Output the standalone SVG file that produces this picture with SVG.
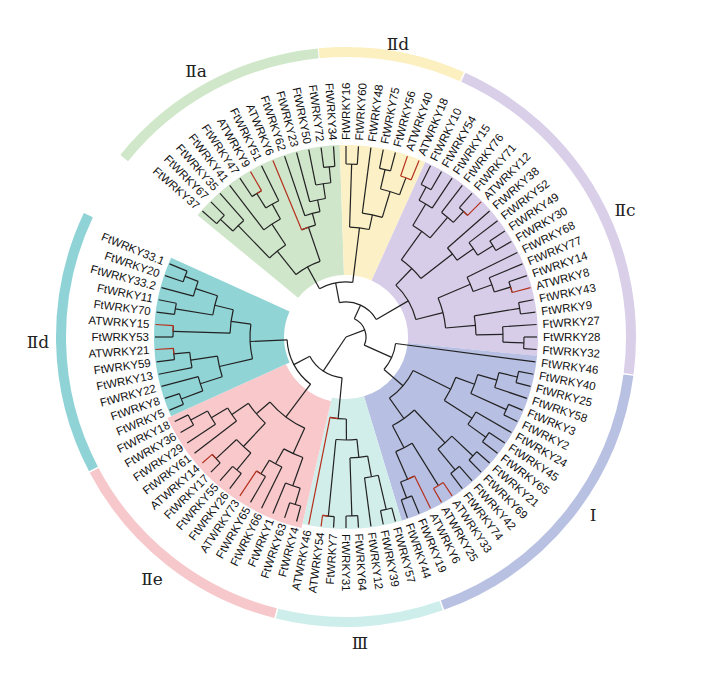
<svg xmlns="http://www.w3.org/2000/svg" width="710" height="683" viewBox="0 0 710 683">
<style>
.sec{fill:none;stroke-width:130}
.ring{fill:none;stroke-width:10}
#connectors{fill:none;stroke:#222;stroke-width:1.2}
#connectors .rd{stroke:#b5301c}
.lb text{font-family:"Liberation Sans",Arial,sans-serif;font-size:11.5px;fill:#111;dominant-baseline:central}
.L text{text-anchor:end}
.cl{font-family:"DejaVu Serif","Liberation Serif",serif;font-size:17px;fill:#222;text-anchor:middle;dominant-baseline:central}
</style>
<rect width="710" height="683" fill="#fff"/>
<g transform="translate(346,337)">
<g id="sectors">
<circle class="sec" r="127" pathLength="360" stroke="#cfe6ca" stroke-dasharray="48.75 999" transform="rotate(-140.625)"/>
<circle class="sec" r="127" pathLength="360" stroke="#fcf1c6" stroke-dasharray="26.25 999" transform="rotate(-91.875)"/>
<circle class="sec" r="127" pathLength="360" stroke="#d8cde8" stroke-dasharray="71.25 999" transform="rotate(-65.625)"/>
<circle class="sec" r="127" pathLength="360" stroke="#b7bfe2" stroke-dasharray="67.5 999" transform="rotate(5.625)"/>
<circle class="sec" r="127" pathLength="360" stroke="#d2eeeb" stroke-dasharray="30 999" transform="rotate(73.125)"/>
<circle class="sec" r="131" pathLength="360" stroke="#f8c8cb" stroke-width="122" stroke-dasharray="52.5 999" transform="rotate(103.125)"/>
<circle class="sec" r="127" pathLength="360" stroke="#91d4d6" stroke-dasharray="48.75 999" transform="rotate(155.625)"/>
</g>
<g id="rings">
<circle class="ring" r="285" pathLength="360" stroke="#d0e7ca" stroke-dasharray="45.5 999" transform="rotate(218.9)"/>
<circle class="ring" r="285" pathLength="360" stroke="#fcefc0" stroke-dasharray="29.4 999" transform="rotate(264.6)"/>
<circle class="ring" r="285" pathLength="360" stroke="#d9cfe8" stroke-dasharray="73.1 999" transform="rotate(294.3)"/>
<circle class="ring" r="285" pathLength="360" stroke="#b9c1e3" stroke-dasharray="62.5 999" transform="rotate(7.7)"/>
<circle class="ring" r="285" pathLength="360" stroke="#cdeeeb" stroke-dasharray="33.5 999" transform="rotate(70.5)"/>
<circle class="ring" r="285" pathLength="360" stroke="#f7c8cb" stroke-dasharray="47.8 999" transform="rotate(104.3)"/>
<circle class="ring" r="285" pathLength="360" stroke="#8fd3d6" stroke-dasharray="52.9 999" transform="rotate(152.4)"/>
</g>
<g id="connectors">
<!-- green IIa -->
<circle r="172" pathLength="360" stroke-dasharray="3.75 999" transform="rotate(-138.75)"/>
<line x1="172" x2="191" transform="rotate(-138.75)"/>
<line x1="172" x2="191" transform="rotate(-135)"/>
<circle r="155" pathLength="360" stroke-dasharray="5.625 999" transform="rotate(-136.875)"/>
<line x1="155" x2="172" transform="rotate(-136.875)"/>
<line x1="155" x2="191" transform="rotate(-131.25)"/>
<circle r="169" pathLength="360" stroke-dasharray="3.75 999" transform="rotate(-123.75)"/>
<line x1="169" x2="191" transform="rotate(-123.75)"/>
<circle r="152" pathLength="360" stroke-dasharray="5.625 999" transform="rotate(-121.875)"/>
<line x1="152" x2="169" transform="rotate(-121.875)"/>
<line x1="152" x2="191" transform="rotate(-116.25)"/>
<circle r="135" pathLength="360" stroke-dasharray="8.44 999" transform="rotate(-127.5)"/>
<line x1="135" x2="191" transform="rotate(-127.5)"/>
<line x1="135" x2="152" transform="rotate(-119.06)"/>
<circle r="110" pathLength="360" stroke-dasharray="10.78 999" transform="rotate(-134.06)"/>
<line x1="110" x2="155" transform="rotate(-134.06)"/>
<line x1="110" x2="135" transform="rotate(-123.28)"/>
<circle r="171" pathLength="360" stroke-dasharray="3.75 999" transform="rotate(-97.5)"/>
<line x1="171" x2="191" transform="rotate(-97.5)"/>
<line x1="171" x2="191" transform="rotate(-93.75)"/>
<circle r="155" pathLength="360" stroke-dasharray="5.625 999" transform="rotate(-101.25)"/>
<line x1="155" x2="191" transform="rotate(-101.25)"/>
<line x1="155" x2="171" transform="rotate(-95.625)"/>
<circle r="140" pathLength="360" stroke-dasharray="6.56 999" transform="rotate(-105)"/>
<line x1="140" x2="191" transform="rotate(-105)"/>
<line x1="140" x2="155" transform="rotate(-98.44)"/>
<circle r="128" pathLength="360" stroke-dasharray="7.03 999" transform="rotate(-108.75)"/>
<line x1="128" x2="191" transform="rotate(-108.75)"/>
<line x1="128" x2="140" transform="rotate(-101.72)"/>
<circle r="116" pathLength="360" stroke-dasharray="7.27 999" transform="rotate(-112.5)"/>
<line x1="116" x2="128" transform="rotate(-105.23)"/>
<circle r="80" pathLength="360" stroke-dasharray="19.8 999" transform="rotate(-128.67)"/>
<line x1="80" x2="110" transform="rotate(-128.67)"/>
<line x1="80" x2="116" transform="rotate(-108.87)"/>
<!-- yellow IId -->
<circle r="173" pathLength="360" stroke-dasharray="3.75 999" transform="rotate(-90)"/>
<line x1="173" x2="191" transform="rotate(-90)"/>
<line x1="173" x2="191" transform="rotate(-86.25)"/>
<circle r="172" pathLength="360" stroke-dasharray="3.75 999" transform="rotate(-78.75)"/>
<line x1="172" x2="191" transform="rotate(-78.75)"/>
<line x1="172" x2="191" transform="rotate(-75)"/>
<circle r="152" pathLength="360" stroke-dasharray="7.5 999" transform="rotate(-76.875)"/>
<line x1="152" x2="172" transform="rotate(-76.875)"/>
<line x1="152" x2="170" transform="rotate(-69.375)"/>
<circle r="125" pathLength="360" stroke-dasharray="9.375 999" transform="rotate(-82.5)"/>
<line x1="125" x2="191" transform="rotate(-82.5)"/>
<line x1="125" x2="152" transform="rotate(-73.125)"/>
<circle r="110" pathLength="360" stroke-dasharray="10.31 999" transform="rotate(-88.125)"/>
<line x1="110" x2="173" transform="rotate(-88.125)"/>
<line x1="110" x2="125" transform="rotate(-77.81)"/>
<circle r="55" pathLength="360" stroke-dasharray="35.8 999" transform="rotate(-118.77)"/>
<line x1="55" x2="80" transform="rotate(-118.77)"/>
<line x1="55" x2="110" transform="rotate(-82.97)"/>
<!-- purple IIc -->
<circle r="170" pathLength="360" stroke-dasharray="3.75 999" transform="rotate(-63.75)"/>
<line x1="170" x2="191" transform="rotate(-63.75)"/>
<line x1="170" x2="191" transform="rotate(-60)"/>
<circle r="155" pathLength="360" stroke-dasharray="5.625 999" transform="rotate(-61.875)"/>
<line x1="155" x2="170" transform="rotate(-61.875)"/>
<line x1="155" x2="191" transform="rotate(-56.25)"/>
<circle r="172" pathLength="360" stroke-dasharray="3.75 999" transform="rotate(-48.75)"/>
<line x1="172" x2="191" transform="rotate(-48.75)"/>
<circle r="157" pathLength="360" stroke-dasharray="5.625 999" transform="rotate(-52.5)"/>
<line x1="157" x2="191" transform="rotate(-52.5)"/>
<line x1="157" x2="172" transform="rotate(-46.875)"/>
<circle r="130" pathLength="360" stroke-dasharray="9.375 999" transform="rotate(-59.06)"/>
<line x1="130" x2="155" transform="rotate(-59.06)"/>
<line x1="130" x2="157" transform="rotate(-49.69)"/>
<circle r="173" pathLength="360" stroke-dasharray="3.75 999" transform="rotate(-33.75)"/>
<line x1="173" x2="191" transform="rotate(-33.75)"/>
<line x1="173" x2="191" transform="rotate(-30)"/>
<circle r="155" pathLength="360" stroke-dasharray="5.625 999" transform="rotate(-37.5)"/>
<line x1="155" x2="191" transform="rotate(-37.5)"/>
<line x1="155" x2="173" transform="rotate(-31.875)"/>
<circle r="135" pathLength="360" stroke-dasharray="6.56 999" transform="rotate(-41.25)"/>
<line x1="135" x2="191" transform="rotate(-41.25)"/>
<line x1="135" x2="155" transform="rotate(-34.69)"/>
<circle r="95" pathLength="360" stroke-dasharray="16.4 999" transform="rotate(-54.375)"/>
<line x1="95" x2="130" transform="rotate(-54.375)"/>
<line x1="95" x2="135" transform="rotate(-37.97)"/>
<circle r="172" pathLength="360" stroke-dasharray="3.75 999" transform="rotate(-18.75)"/>
<line x1="172" x2="191" transform="rotate(-18.75)"/>
<circle r="155" pathLength="360" stroke-dasharray="5.625 999" transform="rotate(-22.5)"/>
<line x1="155" x2="191" transform="rotate(-22.5)"/>
<line x1="155" x2="172" transform="rotate(-16.875)"/>
<circle r="135" pathLength="360" stroke-dasharray="6.56 999" transform="rotate(-26.25)"/>
<line x1="135" x2="191" transform="rotate(-26.25)"/>
<line x1="135" x2="155" transform="rotate(-19.69)"/>
<circle r="176" pathLength="360" stroke-dasharray="3.75 999" transform="rotate(-11.25)"/>
<line x1="176" x2="191" transform="rotate(-11.25)"/>
<line x1="176" x2="191" transform="rotate(-7.5)"/>
<circle r="178" pathLength="360" stroke-dasharray="3.75 999" transform="rotate(0)"/>
<line x1="178" x2="191" transform="rotate(0)"/>
<line x1="178" x2="191" transform="rotate(3.75)"/>
<circle r="157" pathLength="360" stroke-dasharray="5.625 999" transform="rotate(-3.75)"/>
<line x1="157" x2="191" transform="rotate(-3.75)"/>
<line x1="157" x2="178" transform="rotate(1.875)"/>
<circle r="130" pathLength="360" stroke-dasharray="8.44 999" transform="rotate(-9.375)"/>
<line x1="130" x2="176" transform="rotate(-9.375)"/>
<line x1="130" x2="157" transform="rotate(-0.9375)"/>
<circle r="100" pathLength="360" stroke-dasharray="17.81 999" transform="rotate(-22.97)"/>
<line x1="100" x2="135" transform="rotate(-22.97)"/>
<line x1="100" x2="130" transform="rotate(-5.156)"/>
<circle r="72" pathLength="360" stroke-dasharray="32.11 999" transform="rotate(-46.17)"/>
<line x1="72" x2="95" transform="rotate(-46.17)"/>
<line x1="72" x2="100" transform="rotate(-14.06)"/>
<circle r="35" pathLength="360" stroke-dasharray="70.75 999" transform="rotate(-100.87)"/>
<line x1="35" x2="55" transform="rotate(-100.87)"/>
<line x1="35" x2="72" transform="rotate(-30.12)"/>
<!-- blue I -->
<circle r="176" pathLength="360" stroke-dasharray="3.75 999" transform="rotate(11.25)"/>
<line x1="176" x2="191" transform="rotate(11.25)"/>
<line x1="176" x2="191" transform="rotate(15)"/>
<circle r="157" pathLength="360" stroke-dasharray="5.625 999" transform="rotate(13.125)"/>
<line x1="157" x2="176" transform="rotate(13.125)"/>
<line x1="157" x2="191" transform="rotate(18.75)"/>
<circle r="176" pathLength="360" stroke-dasharray="3.75 999" transform="rotate(22.5)"/>
<line x1="176" x2="191" transform="rotate(22.5)"/>
<line x1="176" x2="191" transform="rotate(26.25)"/>
<circle r="137" pathLength="360" stroke-dasharray="8.44 999" transform="rotate(15.94)"/>
<line x1="137" x2="157" transform="rotate(15.94)"/>
<line x1="137" x2="176" transform="rotate(24.375)"/>
<circle r="172" pathLength="360" stroke-dasharray="3.75 999" transform="rotate(33.75)"/>
<line x1="172" x2="191" transform="rotate(33.75)"/>
<line x1="172" x2="191" transform="rotate(37.5)"/>
<circle r="150" pathLength="360" stroke-dasharray="5.625 999" transform="rotate(30)"/>
<line x1="150" x2="191" transform="rotate(30)"/>
<line x1="150" x2="172" transform="rotate(35.625)"/>
<circle r="117" pathLength="360" stroke-dasharray="12.65 999" transform="rotate(20.16)"/>
<line x1="117" x2="137" transform="rotate(20.16)"/>
<line x1="117" x2="150" transform="rotate(32.81)"/>
<circle r="174" pathLength="360" stroke-dasharray="3.75 999" transform="rotate(41.25)"/>
<line x1="174" x2="191" transform="rotate(41.25)"/>
<line x1="174" x2="191" transform="rotate(45)"/>
<circle r="172" pathLength="360" stroke-dasharray="3.75 999" transform="rotate(48.75)"/>
<line x1="172" x2="191" transform="rotate(48.75)"/>
<line x1="172" x2="191" transform="rotate(52.5)"/>
<circle r="145" pathLength="360" stroke-dasharray="7.5 999" transform="rotate(43.125)"/>
<line x1="145" x2="174" transform="rotate(43.125)"/>
<line x1="145" x2="172" transform="rotate(50.625)"/>
<circle r="172" pathLength="360" stroke-dasharray="3.75 999" transform="rotate(67.5)"/>
<line x1="172" x2="191" transform="rotate(67.5)"/>
<line x1="172" x2="191" transform="rotate(71.25)"/>
<circle r="155" pathLength="360" stroke-dasharray="5.625 999" transform="rotate(63.75)"/>
<line x1="155" x2="172" transform="rotate(69.375)"/>
<circle r="125" pathLength="360" stroke-dasharray="8.44 999" transform="rotate(58.125)"/>
<line x1="125" x2="175" transform="rotate(58.125)"/>
<line x1="125" x2="155" transform="rotate(66.56)"/>
<circle r="100" pathLength="360" stroke-dasharray="15.47 999" transform="rotate(46.875)"/>
<line x1="100" x2="145" transform="rotate(46.875)"/>
<line x1="100" x2="125" transform="rotate(62.34)"/>
<circle r="75" pathLength="360" stroke-dasharray="28.13 999" transform="rotate(26.48)"/>
<line x1="75" x2="117" transform="rotate(26.48)"/>
<line x1="75" x2="100" transform="rotate(54.61)"/>
<circle r="50" pathLength="360" stroke-dasharray="33.05 999" transform="rotate(7.5)"/>
<line x1="50" x2="191" transform="rotate(7.5)"/>
<line x1="50" x2="75" transform="rotate(40.55)"/>
<circle r="20" pathLength="360" stroke-dasharray="89.52 999" transform="rotate(-65.5)"/>
<line x1="20" x2="35" transform="rotate(-65.5)"/>
<line x1="20" x2="50" transform="rotate(24.02)"/>
<!-- cyan III -->
<circle r="177" pathLength="360" stroke-dasharray="3.75 999" transform="rotate(75)"/>
<line x1="177" x2="191" transform="rotate(75)"/>
<line x1="177" x2="191" transform="rotate(78.75)"/>
<circle r="142" pathLength="360" stroke-dasharray="5.625 999" transform="rotate(76.875)"/>
<line x1="142" x2="177" transform="rotate(76.875)"/>
<line x1="142" x2="191" transform="rotate(82.5)"/>
<circle r="179" pathLength="360" stroke-dasharray="3.75 999" transform="rotate(86.25)"/>
<line x1="179" x2="191" transform="rotate(86.25)"/>
<line x1="179" x2="191" transform="rotate(90)"/>
<circle r="121" pathLength="360" stroke-dasharray="8.44 999" transform="rotate(79.69)"/>
<line x1="121" x2="142" transform="rotate(79.69)"/>
<line x1="121" x2="179" transform="rotate(88.125)"/>
<circle r="180" pathLength="360" stroke-dasharray="3.75 999" transform="rotate(93.75)"/>
<line x1="180" x2="191" transform="rotate(93.75)"/>
<circle r="103" pathLength="360" stroke-dasharray="11.72 999" transform="rotate(83.91)"/>
<line x1="103" x2="121" transform="rotate(83.91)"/>
<line x1="103" x2="180" transform="rotate(95.625)"/>
<circle r="82" pathLength="360" stroke-dasharray="11.48 999" transform="rotate(89.77)"/>
<line x1="82" x2="103" transform="rotate(89.77)"/>
<!-- pink IIe -->
<circle r="175" pathLength="360" stroke-dasharray="3.75 999" transform="rotate(105)"/>
<line x1="175" x2="191" transform="rotate(105)"/>
<line x1="175" x2="191" transform="rotate(108.75)"/>
<circle r="158" pathLength="360" stroke-dasharray="5.625 999" transform="rotate(106.875)"/>
<line x1="158" x2="175" transform="rotate(106.875)"/>
<line x1="158" x2="191" transform="rotate(112.5)"/>
<circle r="161" pathLength="360" stroke-dasharray="3.75 999" transform="rotate(120)"/>
<line x1="161" x2="191" transform="rotate(120)"/>
<circle r="145" pathLength="360" stroke-dasharray="5.625 999" transform="rotate(116.25)"/>
<line x1="145" x2="191" transform="rotate(116.25)"/>
<line x1="145" x2="161" transform="rotate(121.875)"/>
<circle r="128" pathLength="360" stroke-dasharray="9.375 999" transform="rotate(109.69)"/>
<line x1="128" x2="158" transform="rotate(109.69)"/>
<line x1="128" x2="145" transform="rotate(119.06)"/>
<circle r="172" pathLength="360" stroke-dasharray="3.75 999" transform="rotate(127.5)"/>
<line x1="172" x2="191" transform="rotate(127.5)"/>
<line x1="172" x2="191" transform="rotate(131.25)"/>
<circle r="178" pathLength="360" stroke-dasharray="3.75 999" transform="rotate(135)"/>
<line x1="178" x2="191" transform="rotate(135)"/>
<circle r="150" pathLength="360" stroke-dasharray="7.5 999" transform="rotate(129.375)"/>
<line x1="150" x2="172" transform="rotate(129.375)"/>
<line x1="150" x2="178" transform="rotate(136.875)"/>
<circle r="176" pathLength="360" stroke-dasharray="3.75 999" transform="rotate(150)"/>
<line x1="176" x2="191" transform="rotate(150)"/>
<line x1="176" x2="191" transform="rotate(153.75)"/>
<circle r="157" pathLength="360" stroke-dasharray="5.625 999" transform="rotate(146.25)"/>
<line x1="157" x2="191" transform="rotate(146.25)"/>
<line x1="157" x2="176" transform="rotate(151.875)"/>
<circle r="138" pathLength="360" stroke-dasharray="6.56 999" transform="rotate(142.5)"/>
<line x1="138" x2="191" transform="rotate(142.5)"/>
<line x1="138" x2="157" transform="rotate(149.06)"/>
<circle r="118" pathLength="360" stroke-dasharray="12.66 999" transform="rotate(133.125)"/>
<line x1="118" x2="150" transform="rotate(133.125)"/>
<line x1="118" x2="138" transform="rotate(145.78)"/>
<circle r="100" pathLength="360" stroke-dasharray="25.08 999" transform="rotate(114.375)"/>
<line x1="100" x2="128" transform="rotate(114.375)"/>
<line x1="100" x2="118" transform="rotate(139.45)"/>
<!-- teal IId -->
<circle r="176" pathLength="360" stroke-dasharray="3.75 999" transform="rotate(157.5)"/>
<line x1="176" x2="191" transform="rotate(157.5)"/>
<line x1="176" x2="191" transform="rotate(161.25)"/>
<circle r="153" pathLength="360" stroke-dasharray="5.625 999" transform="rotate(159.375)"/>
<line x1="153" x2="176" transform="rotate(159.375)"/>
<line x1="153" x2="191" transform="rotate(165)"/>
<circle r="173" pathLength="360" stroke-dasharray="3.75 999" transform="rotate(172.5)"/>
<line x1="173" x2="191" transform="rotate(172.5)"/>
<circle r="157" pathLength="360" stroke-dasharray="5.625 999" transform="rotate(168.75)"/>
<line x1="157" x2="191" transform="rotate(168.75)"/>
<line x1="157" x2="173" transform="rotate(174.375)"/>
<circle r="130" pathLength="360" stroke-dasharray="9.37 999" transform="rotate(162.19)"/>
<line x1="130" x2="153" transform="rotate(162.19)"/>
<line x1="130" x2="157" transform="rotate(171.56)"/>
<circle r="173" pathLength="360" stroke-dasharray="3.75 999" transform="rotate(180)"/>
<line x1="173" x2="191" transform="rotate(180)"/>
<circle r="173" pathLength="360" stroke-dasharray="3.75 999" transform="rotate(187.5)"/>
<line x1="173" x2="191" transform="rotate(187.5)"/>
<line x1="173" x2="191" transform="rotate(191.25)"/>
<circle r="172" pathLength="360" stroke-dasharray="3.75 999" transform="rotate(198.75)"/>
<line x1="172" x2="191" transform="rotate(198.75)"/>
<line x1="172" x2="191" transform="rotate(202.5)"/>
<circle r="158" pathLength="360" stroke-dasharray="5.625 999" transform="rotate(195)"/>
<line x1="158" x2="191" transform="rotate(195)"/>
<line x1="158" x2="172" transform="rotate(200.625)"/>
<circle r="135" pathLength="360" stroke-dasharray="8.44 999" transform="rotate(189.375)"/>
<line x1="135" x2="173" transform="rotate(189.375)"/>
<line x1="135" x2="158" transform="rotate(197.81)"/>
<circle r="116" pathLength="360" stroke-dasharray="11.72 999" transform="rotate(181.875)"/>
<line x1="116" x2="173" transform="rotate(181.875)"/>
<line x1="116" x2="135" transform="rotate(193.59)"/>
<circle r="96" pathLength="360" stroke-dasharray="20.86 999" transform="rotate(166.875)"/>
<line x1="96" x2="130" transform="rotate(166.875)"/>
<line x1="96" x2="116" transform="rotate(187.73)"/>
<circle r="59" pathLength="360" stroke-dasharray="50.39 999" transform="rotate(126.91)"/>
<line x1="59" x2="100" transform="rotate(126.91)"/>
<line x1="59" x2="96" transform="rotate(177.3)"/>
<circle r="41" pathLength="360" stroke-dasharray="56.59 999" transform="rotate(95.51)"/>
<line x1="41" x2="82" transform="rotate(95.51)"/>
<line x1="41" x2="59" transform="rotate(152.1)"/>
<line x1="0" x2="41" transform="rotate(123.8)"/>
<line x1="0" x2="20" transform="rotate(-20.74)"/>
<!-- red AT branches -->
<circle class="rd" r="169" pathLength="360" stroke-dasharray="1.875 999" transform="rotate(-121.875)"/>
<line class="rd" x1="169" x2="191" transform="rotate(-120)"/>
<circle class="rd" r="116" pathLength="360" stroke-dasharray="3.63 999" transform="rotate(-112.5)"/>
<line class="rd" x1="116" x2="191" transform="rotate(-112.5)"/>
<circle class="rd" r="170" pathLength="360" stroke-dasharray="3.75 999" transform="rotate(-71.25)"/>
<line class="rd" x1="170" x2="191" transform="rotate(-71.25)"/>
<line class="rd" x1="170" x2="191" transform="rotate(-67.5)"/>
<circle class="rd" r="172" pathLength="360" stroke-dasharray="1.875 999" transform="rotate(-46.875)"/>
<line class="rd" x1="172" x2="191" transform="rotate(-45)"/>
<circle class="rd" r="172" pathLength="360" stroke-dasharray="1.875 999" transform="rotate(-16.875)"/>
<line class="rd" x1="172" x2="191" transform="rotate(-15)"/>
<circle class="rd" r="175" pathLength="360" stroke-dasharray="3.75 999" transform="rotate(56.25)"/>
<line class="rd" x1="175" x2="191" transform="rotate(56.25)"/>
<line class="rd" x1="175" x2="191" transform="rotate(60)"/>
<circle class="rd" r="155" pathLength="360" stroke-dasharray="2.81 999" transform="rotate(63.75)"/>
<line class="rd" x1="155" x2="191" transform="rotate(63.75)"/>
<circle class="rd" r="180" pathLength="360" stroke-dasharray="1.875 999" transform="rotate(95.625)"/>
<line class="rd" x1="180" x2="191" transform="rotate(97.5)"/>
<circle class="rd" r="82" pathLength="360" stroke-dasharray="5.74 999" transform="rotate(95.51)"/>
<line class="rd" x1="82" x2="191" transform="rotate(101.25)"/>
<circle class="rd" r="161" pathLength="360" stroke-dasharray="1.875 999" transform="rotate(121.875)"/>
<line class="rd" x1="161" x2="191" transform="rotate(123.75)"/>
<circle class="rd" r="178" pathLength="360" stroke-dasharray="1.875 999" transform="rotate(136.875)"/>
<line class="rd" x1="178" x2="191" transform="rotate(138.75)"/>
<circle class="rd" r="173" pathLength="360" stroke-dasharray="1.875 999" transform="rotate(174.375)"/>
<line class="rd" x1="173" x2="191" transform="rotate(176.25)"/>
<circle class="rd" r="173" pathLength="360" stroke-dasharray="1.875 999" transform="rotate(181.875)"/>
<line class="rd" x1="173" x2="191" transform="rotate(183.75)"/>
</g>
<g class="lb L">
<g id="leaf-FtWRKY37"><text x="-197" transform="rotate(41.25)">FtWRKY37</text></g>
<g id="leaf-FtWRKY67"><text x="-197" transform="rotate(45)">FtWRKY67</text></g>
<g id="leaf-FtWRKY35"><text x="-197" transform="rotate(48.75)">FtWRKY35</text></g>
<g id="leaf-FtWRKY41"><text x="-197" transform="rotate(52.5)">FtWRKY41</text></g>
<g id="leaf-FtWRKY47"><text x="-197" transform="rotate(56.25)">FtWRKY47</text></g>
<g id="leaf-ATWRKY9"><text x="-197" transform="rotate(60)">ATWRKY9</text></g>
<g id="leaf-FtWRKY51"><text x="-197" transform="rotate(63.75)">FtWRKY51</text></g>
<g id="leaf-ATWRKY6-IIa"><text x="-197" transform="rotate(67.5)">ATWRKY6</text></g>
<g id="leaf-FtWRKY62"><text x="-197" transform="rotate(71.25)">FtWRKY62</text></g>
<g id="leaf-FtWRKY23"><text x="-197" transform="rotate(75)">FtWRKY23</text></g>
<g id="leaf-FtWRKY50"><text x="-197" transform="rotate(78.75)">FtWRKY50</text></g>
<g id="leaf-FtWRKY72"><text x="-197" transform="rotate(82.5)">FtWRKY72</text></g>
<g id="leaf-FtWRKY34"><text x="-197" transform="rotate(86.25)">FtWRKY34</text></g>
<g id="leaf-FtWRKY7"><text x="-197" transform="rotate(-86.25)">FtWRKY7</text></g>
<g id="leaf-ATWRKY54"><text x="-197" transform="rotate(-82.5)">ATWRKY54</text></g>
<g id="leaf-ATWRKY46"><text x="-197" transform="rotate(-78.75)">ATWRKY46</text></g>
<g id="leaf-FtWRKY4"><text x="-197" transform="rotate(-75)">FtWRKY4</text></g>
<g id="leaf-FtWRKY63"><text x="-197" transform="rotate(-71.25)">FtWRKY63</text></g>
<g id="leaf-FtWRKY1"><text x="-197" transform="rotate(-67.5)">FtWRKY1</text></g>
<g id="leaf-FtWRKY66"><text x="-197" transform="rotate(-63.75)">FtWRKY66</text></g>
<g id="leaf-FtWRKY65-IIe"><text x="-197" transform="rotate(-60)">FtWRKY65</text></g>
<g id="leaf-ATWRKY73"><text x="-197" transform="rotate(-56.25)">ATWRKY73</text></g>
<g id="leaf-FtWRKY26"><text x="-197" transform="rotate(-52.5)">FtWRKY26</text></g>
<g id="leaf-FtWRKY55"><text x="-197" transform="rotate(-48.75)">FtWRKY55</text></g>
<g id="leaf-FtWRKY17"><text x="-197" transform="rotate(-45)">FtWRKY17</text></g>
<g id="leaf-ATWRKY14"><text x="-197" transform="rotate(-41.25)">ATWRKY14</text></g>
<g id="leaf-FtWRKY61"><text x="-197" transform="rotate(-37.5)">FtWRKY61</text></g>
<g id="leaf-FtWRKY29"><text x="-197" transform="rotate(-33.75)">FtWRKY29</text></g>
<g id="leaf-FtWRKY36"><text x="-197" transform="rotate(-30)">FtWRKY36</text></g>
<g id="leaf-FtWRKY18"><text x="-197" transform="rotate(-26.25)">FtWRKY18</text></g>
<g id="leaf-FtWRKY5"><text x="-197" transform="rotate(-22.5)">FtWRKY5</text></g>
<g id="leaf-FtWRKY8"><text x="-197" transform="rotate(-18.75)">FtWRKY8</text></g>
<g id="leaf-FtWRKY22"><text x="-197" transform="rotate(-15)">FtWRKY22</text></g>
<g id="leaf-FtWRKY13"><text x="-197" transform="rotate(-11.25)">FtWRKY13</text></g>
<g id="leaf-FtWRKY59"><text x="-197" transform="rotate(-7.5)">FtWRKY59</text></g>
<g id="leaf-ATWRKY21"><text x="-197" transform="rotate(-3.75)">ATWRKY21</text></g>
<g id="leaf-FtWRKY53"><text x="-197" transform="rotate(0)">FtWRKY53</text></g>
<g id="leaf-ATWRKY15"><text x="-197" transform="rotate(3.75)">ATWRKY15</text></g>
<g id="leaf-FtWRKY70"><text x="-197" transform="rotate(7.5)">FtWRKY70</text></g>
<g id="leaf-FtWRKY11"><text x="-197" transform="rotate(11.25)">FtWRKY11</text></g>
<g id="leaf-FtWRKY33.2"><text x="-197" transform="rotate(15)">FtWRKY33.2</text></g>
<g id="leaf-FtWRKY20"><text x="-197" transform="rotate(18.75)">FtWRKY20</text></g>
<g id="leaf-FtWRKY33.1"><text x="-197" transform="rotate(22.5)">FtWRKY33.1</text></g>
</g>
<g class="lb R">
<g id="leaf-FtWRKY16"><text x="197" transform="rotate(-90)">FtWRKY16</text></g>
<g id="leaf-FtWRKY60"><text x="197" transform="rotate(-86.25)">FtWRKY60</text></g>
<g id="leaf-FtWRKY48"><text x="197" transform="rotate(-82.5)">FtWRKY48</text></g>
<g id="leaf-FtWRKY75"><text x="197" transform="rotate(-78.75)">FtWRKY75</text></g>
<g id="leaf-FtWRKY56"><text x="197" transform="rotate(-75)">FtWRKY56</text></g>
<g id="leaf-ATWRKY40"><text x="197" transform="rotate(-71.25)">ATWRKY40</text></g>
<g id="leaf-ATWRKY18"><text x="197" transform="rotate(-67.5)">ATWRKY18</text></g>
<g id="leaf-FtWRKY10"><text x="197" transform="rotate(-63.75)">FtWRKY10</text></g>
<g id="leaf-FtWRKY54"><text x="197" transform="rotate(-60)">FtWRKY54</text></g>
<g id="leaf-FtWRKY15"><text x="197" transform="rotate(-56.25)">FtWRKY15</text></g>
<g id="leaf-FtWRKY76"><text x="197" transform="rotate(-52.5)">FtWRKY76</text></g>
<g id="leaf-FtWRKY71"><text x="197" transform="rotate(-48.75)">FtWRKY71</text></g>
<g id="leaf-ATWRKY12"><text x="197" transform="rotate(-45)">ATWRKY12</text></g>
<g id="leaf-FtWRKY38"><text x="197" transform="rotate(-41.25)">FtWRKY38</text></g>
<g id="leaf-FtWRKY52"><text x="197" transform="rotate(-37.5)">FtWRKY52</text></g>
<g id="leaf-FtWRKY49"><text x="197" transform="rotate(-33.75)">FtWRKY49</text></g>
<g id="leaf-FtWRKY30"><text x="197" transform="rotate(-30)">FtWRKY30</text></g>
<g id="leaf-FtWRKY68"><text x="197" transform="rotate(-26.25)">FtWRKY68</text></g>
<g id="leaf-FtWRKY77"><text x="197" transform="rotate(-22.5)">FtWRKY77</text></g>
<g id="leaf-FtWRKY14"><text x="197" transform="rotate(-18.75)">FtWRKY14</text></g>
<g id="leaf-ATWRKY8"><text x="197" transform="rotate(-15)">ATWRKY8</text></g>
<g id="leaf-FtWRKY43"><text x="197" transform="rotate(-11.25)">FtWRKY43</text></g>
<g id="leaf-FtWRKY9"><text x="197" transform="rotate(-7.5)">FtWRKY9</text></g>
<g id="leaf-FtWRKY27"><text x="197" transform="rotate(-3.75)">FtWRKY27</text></g>
<g id="leaf-FtWRKY28"><text x="197" transform="rotate(0)">FtWRKY28</text></g>
<g id="leaf-FtWRKY32"><text x="197" transform="rotate(3.75)">FtWRKY32</text></g>
<g id="leaf-FtWRKY46"><text x="197" transform="rotate(7.5)">FtWRKY46</text></g>
<g id="leaf-FtWRKY40"><text x="197" transform="rotate(11.25)">FtWRKY40</text></g>
<g id="leaf-FtWRKY25"><text x="197" transform="rotate(15)">FtWRKY25</text></g>
<g id="leaf-FtWRKY58"><text x="197" transform="rotate(18.75)">FtWRKY58</text></g>
<g id="leaf-FtWRKY3"><text x="197" transform="rotate(22.5)">FtWRKY3</text></g>
<g id="leaf-FtWRKY2"><text x="197" transform="rotate(26.25)">FtWRKY2</text></g>
<g id="leaf-FtWRKY24"><text x="197" transform="rotate(30)">FtWRKY24</text></g>
<g id="leaf-FtWRKY45"><text x="197" transform="rotate(33.75)">FtWRKY45</text></g>
<g id="leaf-FtWRKY65-I"><text x="197" transform="rotate(37.5)">FtWRKY65</text></g>
<g id="leaf-FtWRKY21"><text x="197" transform="rotate(41.25)">FtWRKY21</text></g>
<g id="leaf-FtWRKY69"><text x="197" transform="rotate(45)">FtWRKY69</text></g>
<g id="leaf-FtWRKY42"><text x="197" transform="rotate(48.75)">FtWRKY42</text></g>
<g id="leaf-FtWRKY74"><text x="197" transform="rotate(52.5)">FtWRKY74</text></g>
<g id="leaf-ATWRKY33"><text x="197" transform="rotate(56.25)">ATWRKY33</text></g>
<g id="leaf-ATWRKY25"><text x="197" transform="rotate(60)">ATWRKY25</text></g>
<g id="leaf-ATWRKY6-I"><text x="197" transform="rotate(63.75)">ATWRKY6</text></g>
<g id="leaf-FtWRKY19"><text x="197" transform="rotate(67.5)">FtWRKY19</text></g>
<g id="leaf-FtWRKY44"><text x="197" transform="rotate(71.25)">FtWRKY44</text></g>
<g id="leaf-FtWRKY57"><text x="197" transform="rotate(75)">FtWRKY57</text></g>
<g id="leaf-FtWRKY39"><text x="197" transform="rotate(78.75)">FtWRKY39</text></g>
<g id="leaf-FtWRKY12"><text x="197" transform="rotate(82.5)">FtWRKY12</text></g>
<g id="leaf-FtWRKY64"><text x="197" transform="rotate(86.25)">FtWRKY64</text></g>
<g id="leaf-FtWRKY31"><text x="197" transform="rotate(90)">FtWRKY31</text></g>
</g>
</g>
<g id="clade-labels">
<text class="cl" x="196" y="71">Ⅱa</text>
<text class="cl" x="398" y="44">Ⅱd</text>
<text class="cl" x="625" y="210">Ⅱc</text>
<text class="cl" x="593" y="515">Ⅰ</text>
<text class="cl" x="360" y="643">Ⅲ</text>
<text class="cl" x="152" y="579">Ⅱe</text>
<text class="cl" x="38" y="342">Ⅱd</text>
</g>
</svg>
